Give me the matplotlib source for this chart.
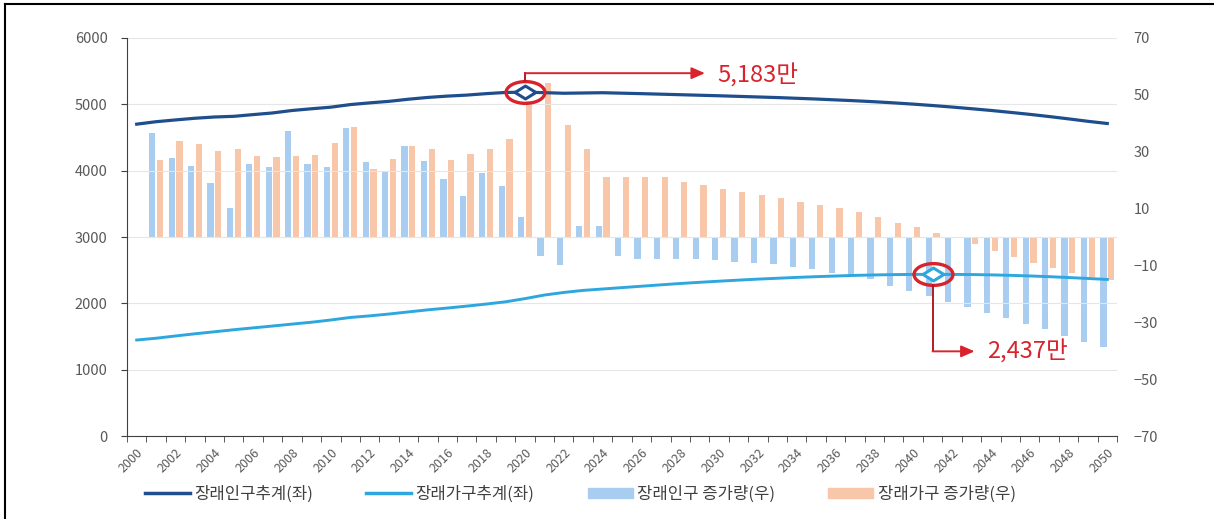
import numpy as np
import matplotlib.pyplot as plt
from matplotlib.path import Path
from matplotlib.transforms import Affine2D, offset_copy
from matplotlib.lines import Line2D
from matplotlib.patches import Patch

plt.rcParams['font.family'] = ['Noto Sans CJK KR', 'DejaVu Sans']

# 데이터 (만 명 / 만 가구)
years = list(range(2000, 2051))
pop = [4701, 4738, 4765, 4790, 4809, 4819, 4845, 4870, 4907, 4933,
       4957, 4996, 5022, 5045, 5077, 5104, 5124, 5139, 5161, 5179,
       5183, 5176, 5167, 5171, 5175, 5168, 5161, 5153, 5145, 5137,
       5129, 5120, 5111, 5102, 5091, 5080, 5067, 5054, 5039, 5022,
       5003, 4982, 4959, 4934, 4908, 4879, 4849, 4816, 4781, 4744,
       4711]
hh = [1447, 1474, 1508, 1541, 1571, 1602, 1630, 1658, 1687, 1715,
      1749, 1787, 1811, 1839, 1871, 1902, 1929, 1958, 1989, 2023,
      2071, 2125, 2164, 2195, 2216, 2237, 2258, 2279, 2299, 2317,
      2334, 2350, 2365, 2378, 2391, 2402, 2412, 2421, 2428, 2433,
      2436, 2437, 2436, 2434, 2429, 2422, 2413, 2402, 2389, 2375,
      2360]
# 증가량 (2001~2050)
pop_chg = [36.5, 27.7, 25.0, 18.9, 10.3, 25.6, 24.7, 37.3, 25.6, 24.7,
           38.5, 26.5, 23.0, 32.0, 26.8, 20.5, 14.4, 22.4, 17.9, 6.9,
           -6.7, -9.8, 4.0, 3.9, -6.7, -7.7, -7.7, -7.7, -7.9, -8.1,
           -8.7, -9.0, -9.6, -10.7, -11.4, -12.5, -13.4, -14.9, -17.2, -19.0,
           -20.8, -22.7, -24.7, -26.6, -28.6, -30.6, -32.5, -34.8, -36.8, -38.6]
hh_chg = [27.1, 33.8, 32.7, 30.2, 31.0, 28.5, 28.2, 28.4, 28.7, 33.2,
          38.6, 24.0, 27.3, 32.0, 31.0, 27.1, 29.1, 30.8, 34.5, 48.0,
          54.0, 39.4, 30.8, 21.0, 21.0, 21.0, 21.0, 19.5, 18.3, 16.9,
          15.9, 14.8, 13.6, 12.4, 11.3, 10.1, 8.7, 6.9, 5.0, 3.4,
          1.5, -0.4, -2.6, -4.9, -7.2, -9.0, -11.0, -12.8, -14.0, -15.1]

labels = ['장래인구추계(좌)', '장래가구추계(좌)', '장래인구 증가량(우)', '장래가구 증가량(우)']

c_pop = '#1f4e8c'
c_hh = '#2ea7de'
c_pop_bar = '#a9cdf0'
c_hh_bar = '#f8c6a9'
c_red = '#d8232c'
c_dred = '#b01c26'
gray = '#595959'

fig = plt.figure(figsize=(12.14, 5.19), dpi=100)
ax = fig.add_axes([0.1046, 0.1599, 0.8155, 0.7669])
ax2 = ax.twinx()

x = np.arange(len(years))
xb = x[1:]

# 막대 (우축)
ax2.bar(xb - 0.2, pop_chg, width=0.32, color=c_pop_bar, zorder=2)
ax2.bar(xb + 0.2, hh_chg, width=0.32, color=c_hh_bar, zorder=2)
ax2.set_ylim(-70, 70)
ax2.set_yticks(np.arange(-70, 71, 20))
ax2.tick_params(axis='y', length=0, labelsize=10.5, labelcolor=gray, pad=12)
for s in ax2.spines.values():
    s.set_visible(False)

# 선 (좌축) - 막대 위에 그리기
ax.set_zorder(ax2.get_zorder() + 1)
ax.patch.set_visible(False)
ax.plot(x, pop, color=c_pop, lw=2.3, zorder=3)
ax.plot(x, hh, color=c_hh, lw=2.1, zorder=3)

ax.set_xlim(-0.5, len(years) - 0.5)
ax.set_ylim(0, 6000)
ax.set_yticks(np.arange(0, 6001, 1000))
ax.yaxis.grid(True, color='#e6e6e6', lw=0.8)
ax.set_axisbelow(True)
ax.tick_params(axis='y', length=4, color='#404040', labelsize=10.5, labelcolor=gray, pad=10)

ax.set_xticks(x[::2])
ax.set_xticklabels([str(y) for y in years[::2]], rotation=45, ha='right',
                   rotation_mode='anchor', fontsize=9, color=gray)
ax.set_xticks(np.arange(-0.5, len(years)), minor=True)
ax.tick_params(axis='x', which='major', length=0, pad=7)
ax.tick_params(axis='x', which='minor', length=4, color='#404040')
for side in ['top', 'right']:
    ax.spines[side].set_visible(False)
ax.spines['left'].set_color('#404040')
ax.spines['bottom'].set_color('#404040')

# 정점 표시
diamond = Path([(0, 0.62), (1, 0), (0, -0.62), (-1, 0), (0, 0.62)],
               [Path.MOVETO, Path.LINETO, Path.LINETO, Path.LINETO, Path.CLOSEPOLY])
oval = Path.unit_circle().transformed(Affine2D().scale(1, 0.56))

i_pop = int(np.argmax(pop))
i_hh = int(np.argmax(hh))

for i, vals, col in [(i_pop, pop, c_pop), (i_hh, hh, c_hh)]:
    ax.plot(x[i], vals[i], marker=diamond, ms=15, mfc='white', mec=col, mew=2.2, zorder=6)
    ax.plot(x[i], vals[i], marker=oval, ms=28, mfc='none', mec=c_red, mew=2.4, zorder=7)


def seg(i, vals, pts):
    out = []
    for dx, dy in pts:
        tr = offset_copy(ax.transData, fig=fig, x=dx, y=dy, units='dots')
        out.append(tr.transform((x[i], vals[i])))
    return out


def callout(i, vals, pts, txt_off):
    inv = ax.transData.inverted()
    d = [inv.transform(p) for p in seg(i, vals, pts)]
    ax.plot([p[0] for p in d[:-1]], [p[1] for p in d[:-1]], color=c_dred, lw=1.4, zorder=8)
    ax.annotate('', xy=d[-1], xytext=d[-2],
                arrowprops=dict(arrowstyle='-|>,head_length=0.8,head_width=0.35',
                                color=c_red, lw=1.4, shrinkA=0, shrinkB=0), zorder=8)
    t = inv.transform(seg(i, vals, [txt_off])[0])
    ax.text(t[0], t[1], f'{vals[i]:,}만', color=c_red, fontsize=17, va='center', ha='left', zorder=8)


# 주석 (정점 값)
callout(i_pop, pop, [(0, 11), (0, 19), (180, 19)], (192, 17))
callout(i_hh, hh, [(0, -11), (0, -77), (42, -77)], (55, -77))

# 범례
handles = [Line2D([], [], color=c_pop, lw=2.5),
           Line2D([], [], color=c_hh, lw=2.5),
           Patch(color=c_pop_bar),
           Patch(color=c_hh_bar)]
fig.legend(handles, labels, loc='center', bbox_to_anchor=(0.478, 0.048), ncol=4,
           frameon=False, fontsize=12, labelcolor='#404040', handlelength=2.7,
           handleheight=0.6, columnspacing=3.2, handletextpad=0.25)

# 테두리
fig.add_artist(Line2D([0.004, 1.0], [0.993, 0.993], transform=fig.transFigure, color='black', lw=1.5))
fig.add_artist(Line2D([0.004, 0.004], [0.0, 0.993], transform=fig.transFigure, color='black', lw=1.5))

fig.savefig('out.png', dpi=100)
